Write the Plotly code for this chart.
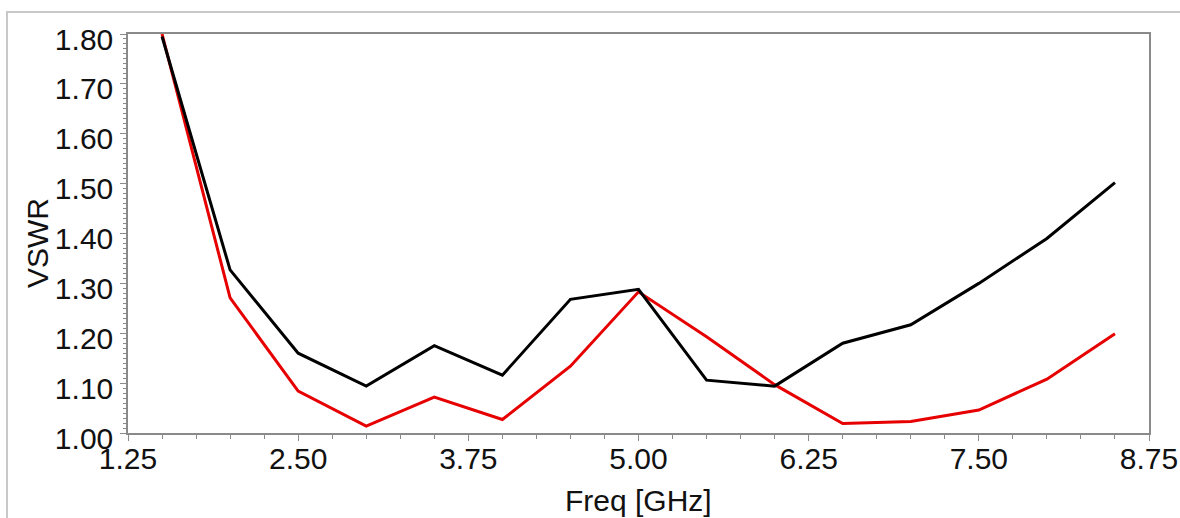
import plotly.graph_objects as go

freq = [1.5, 2.0, 2.5, 3.0, 3.5, 4.0, 4.5, 5.0, 5.5, 6.0, 6.5, 7.0, 7.5, 8.0, 8.5]
vswr_black = [1.795, 1.327, 1.160, 1.094, 1.175, 1.116, 1.268, 1.288, 1.106, 1.094,
              1.180, 1.217, 1.300, 1.390, 1.502]
vswr_red = [1.800, 1.271, 1.084, 1.014, 1.072, 1.027, 1.134, 1.283, 1.193, 1.097,
            1.019, 1.023, 1.046, 1.108, 1.199]

x_ticks = [1.25, 2.50, 3.75, 5.00, 6.25, 7.50, 8.75]
y_ticks = [1.00, 1.10, 1.20, 1.30, 1.40, 1.50, 1.60, 1.70, 1.80]

FONT = "Liberation Sans, Arial, sans-serif"
AX = "#8a8a8a"
TXT = "#111111"
FS = 30

fig = go.Figure()
fig.add_trace(go.Scatter(x=freq, y=vswr_red, mode="lines",
                         line=dict(color="#e60000", width=3), showlegend=False))
fig.add_trace(go.Scatter(x=freq, y=vswr_black, mode="lines",
                         line=dict(color="#000000", width=3), showlegend=False))

W, H = 1180, 518
L, R, T, B = 128, 31, 34, 85
pw, ph = W - L - R, H - T - B

def px(xpix):
    return (xpix - L) / pw

def py(ypix):
    return (H - B - ypix) / ph

fig.update_layout(
    width=W, height=H,
    margin=dict(l=L, r=R, t=T, b=B, pad=0, autoexpand=False),
    paper_bgcolor="white", plot_bgcolor="white",
    font=dict(family=FONT, size=FS, color=TXT),
    xaxis=dict(
        range=[1.25, 8.75], tickvals=x_ticks,
        ticktext=[f"{v:.2f}" for v in x_ticks],
        showgrid=False, zeroline=False, automargin=False,
        showline=True, linecolor=AX, linewidth=1.5, mirror=True,
        ticks="outside", ticklen=6, tickcolor=AX, tickwidth=1.2,
        minor=dict(dtick=0.25, ticks="outside", ticklen=4, tickcolor=AX, tickwidth=1, showgrid=False),
        tickfont=dict(size=FS, family=FONT, color=TXT),
        ticklabelstandoff=-8,
    ),
    yaxis=dict(
        range=[1.0, 1.8], tickvals=y_ticks,
        ticktext=[f"{v:.2f}" for v in y_ticks],
        showgrid=False, zeroline=False, automargin=False,
        showline=True, linecolor=AX, linewidth=1.5, mirror=True,
        ticks="outside", ticklen=6, tickcolor=AX, tickwidth=1.2,
        minor=dict(dtick=0.01, ticks="outside", ticklen=3, tickcolor=AX, tickwidth=1, showgrid=False),
        tickfont=dict(size=FS, family=FONT, color=TXT),
        ticklabelshift=5, ticklabelstandoff=1,
    ),
    annotations=[
        dict(text="Freq [GHz]", xref="paper", yref="paper", x=px(638), y=py(519),
             xanchor="center", yanchor="bottom", showarrow=False,
             font=dict(size=FS, family=FONT, color=TXT)),
        dict(text="VSWR", xref="paper", yref="paper", x=px(37), y=py(243),
             xanchor="center", yanchor="middle", textangle=-90, showarrow=False,
             font=dict(size=FS, family=FONT, color=TXT)),
    ],
    shapes=[
        dict(type="path", xref="paper", yref="paper",
             path=f"M {px(7)} {py(520)} L {px(7)} {py(12)} L {px(1182)} {py(12)}",
             line=dict(color="#c8c8c8", width=2)),
    ],
)

fig.write_html("out.html", config={"displayModeBar": False},
               post_script="document.body.style.margin='0';document.body.style.overflow='hidden';")
